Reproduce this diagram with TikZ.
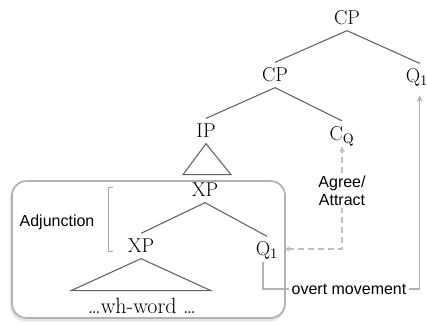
\documentclass[tikz,border=0pt]{standalone}
\usepackage{fontspec}
\setsansfont{Liberation Sans}
\usetikzlibrary{arrows.meta}
\begin{document}
\begin{tikzpicture}[x=0.75pt,y=-0.75pt,
  cat/.style={font=\fontsize{15}{17}\selectfont, inner sep=0pt, outer sep=4.5pt, text height=10pt, text depth=0pt},
  sflab/.style={font=\sffamily\fontsize{12}{14.25}\selectfont, inner sep=1.5pt, fill=white, align=center},
  branch/.style={draw=black!62, line width=0.8pt},
  boxline/.style={draw=black!30, line width=1.3pt, rounded corners=11pt},
  bracketline/.style={draw=black!35, line width=0.6pt},
  agree/.style={draw=black!25, line width=1pt, dash pattern=on 4.5pt off 3pt, {Stealth[length=4.5pt,width=4pt]}-{Stealth[length=4.5pt,width=4pt]}},
  overt/.style={draw=black!30, line width=1pt},
]
\useasboundingbox (0,0) rectangle (427,322);
% box with faint shadow
\draw[draw=black!10, line width=2pt, rounded corners=11pt] (11,183) rectangle (284,320);
\draw[boxline, fill=white] (12,181) rectangle (285,318);
% nodes
\node[cat] (cp1) at (347,18) {CP};
\node[cat] (cp2) at (275,75) {CP};
\node[cat] (q1top) at (417,76) {Q$_1$};
\node[cat] (ip) at (206,131) {IP};
\node[cat] (cq) at (342,133.5) {C$_{\mathrm{Q}}$};
\node[cat] (xptop) at (205,190) {XP};
\node[cat] (xplow) at (141,246) {XP};
\node[cat] (q1low) at (267,249) {Q$_1$};
\node[cat, font=\fontsize{16.5}{18}\selectfont] (wh) at (142,307) {\ldots wh-word \ldots};
\node[sflab, fill=none] (adj) at (57,222) {Adjunction};
% branches
\draw[branch] (cp1.south) -- (cp2.north);
\draw[branch] (cp1.south) -- ([xshift=2pt]q1top.north);
\draw[branch] (cp2.south) -- (ip.north);
\draw[branch] (cp2.south) -- (cq.north);
\draw[branch] (ip.south) -- ++(-23,31) -- ++(48,0) -- cycle;
\draw[branch] (xptop.south) -- (xplow.north);
\draw[branch] (xptop.south) -- (q1low.north);
\draw[branch] (xplow.south) -- ++(-70,32) -- ++(140,0) -- cycle;
% bracket
\draw[bracketline] (113,187) -- (108,187) -- (108,251) -- (113,251);
% agree / attract
\draw[agree] (q1low.east) -| (cq.south);
\node[sflab] (agr) at (342,191) {Agree/\\[-1pt]Attract};
% overt movement
\node[sflab] (ovm) at (349,289) {overt movement};
\draw[overt] ([xshift=-3pt]q1low.south) |- (ovm.west);
\draw[overt, -{Stealth[length=5pt,width=4.5pt]}] (ovm.east) -| ([xshift=2pt,yshift=-5pt]q1top.south);
\end{tikzpicture}
\end{document}
